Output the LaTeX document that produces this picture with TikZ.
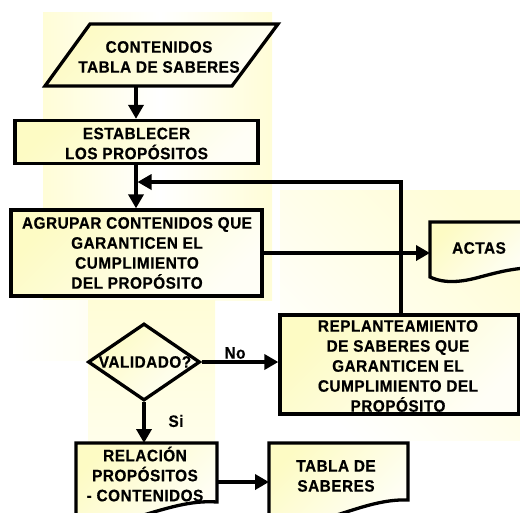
\documentclass[tikz,border=0pt]{standalone}
\usepackage{fontspec}
\setmainfont{Liberation Sans}
\newfontfamily\boxfont{Liberation Sans}[FakeStretch=0.93, LetterSpace=3, BoldFeatures={FakeBold=0.6}]
\usetikzlibrary{arrows.meta,shapes.geometric}
\definecolor{paley}{RGB}{253,251,196}
\definecolor{bgy}{RGB}{255,253,215}
\begin{document}
\begin{tikzpicture}[x=1pt,y=-1pt,
  txt/.style={font=\boxfont\fontsize{16.5}{20}\selectfont\bfseries, align=center, inner sep=0pt},
  fillbox/.style={left color=paley, right color=paley!15!white, shading angle=45},
  box/.style={draw=black, line width=3.3pt, fillbox, rectangle, inner sep=0pt},
  shp/.style={draw=black, line width=3.3pt, fillbox, line join=miter},
  arr/.style={line width=3.8pt, -{Triangle[length=14pt,width=15pt]}},
  lab/.style={font=\boxfont\fontsize{16.5}{20}\selectfont\bfseries, inner sep=0pt}]
\useasboundingbox (0,0) rectangle (520,512);
% background glow
\fill[left color=bgy, right color=white, shading angle=90] (43,12) rectangle (160,300);
\fill[left color=white, right color=bgy, shading angle=90] (160,12) rectangle (272,300);
\fill[left color=white, right color=bgy!70!white, shading angle=90] (12,300) rectangle (200,360);
\fill[top color=bgy, bottom color=bgy!50!white] (88,300) rectangle (215,445);
\fill[left color=white, right color=bgy, shading angle=135] (280,190) rectangle (520,440);
% parallelogram input
\path[shp] (90,24) -- (278,24) -- (232,86) -- (45,86) -- cycle;
\node[txt] (cont) at (159,57) {CONTENIDOS\\TABLA DE SABERES};
\coordinate (contb) at (136,86);
% process boxes
\node[box, minimum width=243, minimum height=43] (est) at (136.5,142) {};
\node[txt] (esttxt) at (136.5,143.5) {ESTABLECER\\LOS PROPÓSITOS};
\node[box, minimum width=251, minimum height=86] (agr) at (136.5,253) {};
\node[txt] (agrtxt) at (137,253) {AGRUPAR CONTENIDOS QUE\\GARANTICEN EL\\CUMPLIMIENTO\\DEL PROPÓSITO};
\node[box, minimum width=239, minimum height=99] (rep) at (399.5,364.5) {};
\node[txt] (reptxt) at (398,366) {REPLANTEAMIENTO\\DE SABERES QUE\\GARANTICEN EL\\CUMPLIMIENTO DEL\\PROPÓSITO};
% decision
\node[draw=black, line width=3.3pt, fillbox, diamond, minimum width=112, minimum height=77, inner sep=0pt] (val) at (144,362) {};
\node[txt] (valtxt) at (145,362) {VALIDADO?};
% documents
\path[shp] (430,222) -- (526,222) -- (526,268) .. controls (510,269) and (495,273) .. (480,277) .. controls (462,282) and (445,284) .. (430,277) -- cycle;
\node[txt] (actas) at (479,248) {ACTAS};
\coordinate (actasw) at (430,253);
\path[shp] (76,443) -- (217,443) -- (217,502) .. controls (190,500) and (165,509) .. (140,516) .. controls (115,523) and (95,522) .. (76,518) -- cycle;
\node[txt] (rel) at (145,474) {RELACIÓN\\PROPÓSITOS\\- CONTENIDOS};
\coordinate (relE) at (217,482);
\coordinate (relN) at (144,443);
\path[shp] (269,443) -- (408,443) -- (408,500) .. controls (385,499) and (362,507) .. (340,514) .. controls (315,522) and (290,522) .. (269,518) -- cycle;
\node[txt] (tab) at (336,476) {TABLA DE\\SABERES};
\coordinate (tabW) at (269,482);
% connectors
\draw[arr] (contb) -- (est.north -| contb);
\draw[arr] (est.south -| contb) -- (agr.north -| contb);
\draw[arr] (agr.east |- actasw) -- (actasw);
\draw[line width=3.3pt, -{Triangle[length=14pt,width=15pt]}] (rep.north -| 401,0) |- (137.5,182);
\draw[arr] (val.east) -- (rep.west |- val.east);
\node[lab] (no) at (235,353) {No};
\draw[arr] (val.south) -- (relN);
\node[lab] (si) at (176,421) {Si};
\draw[arr] (relE) -- (tabW);
\end{tikzpicture}
\end{document}
